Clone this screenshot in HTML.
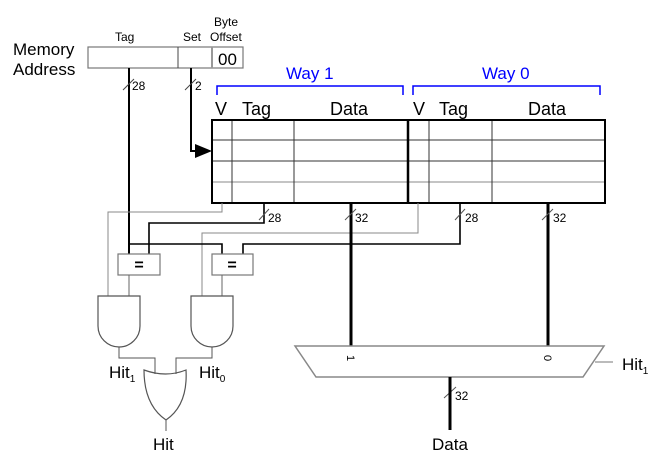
<!DOCTYPE html>
<html><head><style>body{margin:0;background:#fff}svg{display:block;font-family:"Liberation Sans",sans-serif}</style></head><body>
<svg width="666" height="464" viewBox="0 0 666 464">
<g fill="none" stroke-linecap="butt">
<rect x="88" y="47" width="155" height="21" stroke="#777" stroke-width="1.2"/>
<line x1="178" y1="47" x2="178" y2="68" stroke="#444"/>
<line x1="212" y1="47" x2="212" y2="68" stroke="#999" stroke-width="2"/>
<polyline points="129,68 129,254" stroke="#000" stroke-width="2"/>
<line x1="123" y1="90" x2="134" y2="79" stroke="#444"/>
<polyline points="191,68 191,151 198,151" stroke="#000" stroke-width="2"/>
<line x1="185" y1="90" x2="196" y2="79" stroke="#444"/>
<polygon points="195,144 212,151 195,158" fill="#000" stroke="none"/>
<polyline points="217,95 217,86 403,86 403,95" stroke="#00f" stroke-width="1.5"/>
<polyline points="413,95 413,86 600,86 600,95" stroke="#00f" stroke-width="1.5"/>
<g stroke="#333" stroke-width="1">
<line x1="212" y1="140" x2="605" y2="140"/><line x1="212" y1="161" x2="605" y2="161"/><line x1="212" y1="182" x2="605" y2="182" stroke="#888"/>
<line x1="232" y1="120" x2="232" y2="203"/><line x1="294" y1="120" x2="294" y2="203"/>
<line x1="429" y1="120" x2="429" y2="203"/><line x1="492" y1="120" x2="492" y2="203"/>
</g>
<rect x="212" y="120" width="393" height="83" stroke="#000" stroke-width="2"/>
<line x1="408" y1="120" x2="408" y2="203" stroke="#000" stroke-width="2.5"/>
<polyline points="222,203 222,212 108,212 108,296" stroke="#888" stroke-width="1"/>
<polyline points="418,203 418,233 202,233 202,296" stroke="#888" stroke-width="1"/>
<polyline points="264,203 264,223 149,223 149,254" stroke="#000" stroke-width="1.6"/>
<polyline points="460,203 460,244 243,244 243,254" stroke="#000" stroke-width="1.6"/>
<polyline points="129,244 222,244 222,254" stroke="#000" stroke-width="1.6"/>
<line x1="351" y1="203" x2="351" y2="346" stroke="#000" stroke-width="3"/>
<line x1="548" y1="203" x2="548" y2="346" stroke="#000" stroke-width="3"/>
<g stroke="#555"><line x1="259" y1="220" x2="269" y2="209"/><line x1="345" y1="220" x2="356" y2="209"/><line x1="455" y1="220" x2="465" y2="209"/><line x1="542" y1="220" x2="553" y2="209"/><line x1="444" y1="398" x2="456" y2="387"/></g>
<rect x="118" y="254" width="42" height="21" stroke="#777" stroke-width="1.2"/>
<rect x="212" y="254" width="41" height="21" stroke="#777" stroke-width="1.2"/>
<line x1="129" y1="275" x2="129" y2="296" stroke="#666"/>
<line x1="222" y1="275" x2="222" y2="296" stroke="#666"/>
<path d="M98,296 H140 V326 A21,21 0 0 1 98,326 Z" stroke="#555" stroke-width="1.2"/>
<path d="M191,296 H233 V326 A21,21 0 0 1 191,326 Z" stroke="#555" stroke-width="1.2"/>
<polyline points="119,347 119,358 155,358 155,374" stroke="#555"/>
<polyline points="212,347 212,358 176,358 176,374" stroke="#555"/>
<path d="M144,370 Q166,378 186,370 Q188,405 166,420 Q144,405 144,370 Z" stroke="#555" stroke-width="1.2"/>
<line x1="166" y1="420" x2="166" y2="431" stroke="#555"/>
<polygon points="295,346 604,346 583,377 316,377" stroke="#888" stroke-width="1.5"/>
<line x1="595" y1="362" x2="613" y2="362" stroke="#777"/>
<line x1="450" y1="377" x2="450" y2="430" stroke="#000" stroke-width="3"/>
</g>
<g fill="#000" font-size="17">
<text x="13" y="55">Memory</text><text x="13" y="75">Address</text>
<text x="215" y="115" font-size="18">V</text><text x="242" y="115" font-size="18">Tag</text><text x="330" y="115" font-size="18">Data</text>
<text x="413" y="115" font-size="18">V</text><text x="439" y="115" font-size="18">Tag</text><text x="528" y="115" font-size="18">Data</text>
<text x="109" y="378">Hit<tspan font-size="10" dy="4">1</tspan></text>
<text x="199" y="378">Hit<tspan font-size="10" dy="4">0</tspan></text>
<text x="153" y="450">Hit</text>
<text x="432" y="450">Data</text>
<text x="622" y="370">Hit<tspan font-size="10" dy="4">1</tspan></text>
</g>
<g fill="#000" font-size="12">
<text x="115" y="41">Tag</text><text x="183" y="41">Set</text><text x="214" y="26">Byte</text><text x="210" y="41">Offset</text>
<text x="132" y="90">28</text><text x="195" y="90">2</text>
<text x="268" y="222">28</text><text x="355" y="222">32</text><text x="465" y="222">28</text><text x="553" y="222">32</text>
<text x="455" y="400">32</text>
</g>
<text x="218" y="65" font-size="17">00</text>
<text x="286" y="79" font-size="17" fill="#00f">Way 1</text>
<text x="482" y="79" font-size="17" fill="#00f">Way 0</text>
<text x="139" y="270" font-size="16" font-weight="bold" text-anchor="middle">=</text>
<text x="232" y="270" font-size="16" font-weight="bold" text-anchor="middle">=</text>
<text transform="translate(347,355) rotate(90)" font-size="11">1</text>
<text transform="translate(544,355) rotate(90)" font-size="11">0</text>
</svg>
</body></html>
